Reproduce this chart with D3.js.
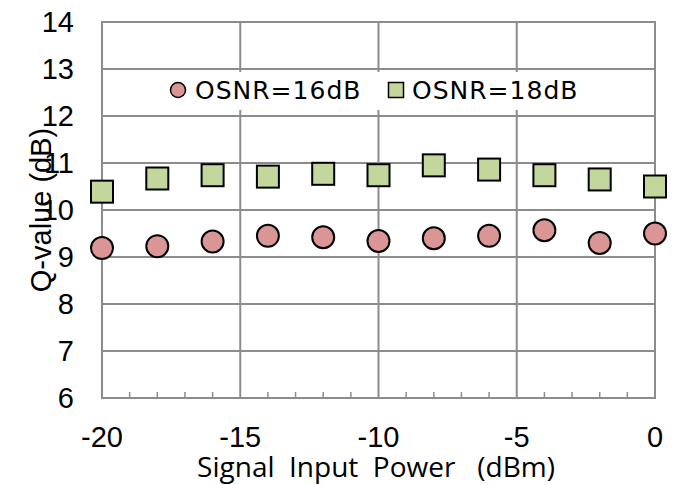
<!DOCTYPE html>
<html>
<head>
<meta charset="utf-8">
<script src="https://cdn.jsdelivr.net/npm/d3@7"></script>
<style>
  html, body { margin: 0; padding: 0; background: #fff; }
  svg { display: block; }
</style>
</head>
<body>
<svg id="chart" width="675" height="485"></svg>
<script>
// ---- data ----
const xValues = [-20, -18, -16, -14, -12, -10, -8, -6, -4, -2, 0];
const osnr16 = [9.19, 9.23, 9.33, 9.45, 9.42, 9.34, 9.40, 9.45, 9.57, 9.30, 9.50];
const osnr18 = [10.39, 10.67, 10.74, 10.71, 10.77, 10.74, 10.95, 10.86, 10.74, 10.65, 10.50];
const seriesNames = ["OSNR=16dB", "OSNR=18dB"];
const xTicks = [-20, -15, -10, -5, 0];
const yTicks = [6, 7, 8, 9, 10, 11, 12, 13, 14];
const xTitle = "Signal  Input  Power   (dBm)";
const yTitle = "Q-value (dB)";

(function () {
// ---- layout ----
const svg = d3.select("#chart");
const pLeft = 102, pRight = 655, pTop = 22, pBottom = 398;
const x = d3.scaleLinear().domain([-20, 0]).range([pLeft, pRight]);
const y = d3.scaleLinear().domain([6, 14]).range([pBottom, pTop]);
const gridColor = "#8c8c8c";
const circleFill = "#d99694";
const squareFill = "#c3d69b";

// horizontal gridlines
svg.append("g").selectAll("line").data(yTicks).join("line")
  .attr("x1", pLeft).attr("x2", pRight)
  .attr("y1", d => y(d)).attr("y2", d => y(d))
  .attr("stroke", gridColor).attr("stroke-width", 2);

// vertical gridlines (major) including left axis
svg.append("g").selectAll("line").data(xTicks).join("line")
  .attr("x1", d => x(d)).attr("x2", d => x(d))
  .attr("y1", pTop - 1).attr("y2", pBottom + 1)
  .attr("stroke", gridColor).attr("stroke-width", 2);

// minor ticks on bottom axis
const minor = d3.range(-20, 1, 1).filter(v => v % 5 !== 0);
svg.append("g").selectAll("line").data(minor).join("line")
  .attr("x1", d => x(d)).attr("x2", d => x(d))
  .attr("y1", pBottom).attr("y2", pBottom - 6)
  .attr("stroke", gridColor).attr("stroke-width", 1.5);

// y tick labels
svg.append("g").selectAll("text").data(yTicks).join("text")
  .attr("x", 74).attr("y", d => y(d)).attr("dy", "0.36em")
  .attr("text-anchor", "end")
  .attr("font-family", "Liberation Sans, Arial, sans-serif")
  .attr("font-size", 29).attr("fill", "#000")
  .text(d => d);

// x tick labels
svg.append("g").selectAll("text").data(xTicks).join("text")
  .attr("x", d => x(d)).attr("y", 447)
  .attr("text-anchor", "middle")
  .attr("font-family", "Liberation Sans, Arial, sans-serif")
  .attr("font-size", 29).attr("fill", "#000")
  .text(d => d);

// axis titles
svg.append("text")
  .attr("x", 376).attr("y", 477)
  .attr("text-anchor", "middle")
  .attr("font-family", "Open Sans, sans-serif")
  .attr("font-size", 28).attr("fill", "#000")
  .style("white-space", "pre")
  .text(xTitle);

svg.append("text")
  .attr("transform", "translate(51,210) rotate(-90)")
  .attr("text-anchor", "middle")
  .attr("font-family", "Liberation Sans, Arial, sans-serif")
  .attr("font-size", 29).attr("fill", "#000")
  .text(yTitle);

// legend box (white background)
const lg = svg.append("g");
lg.append("rect").attr("x", 162).attr("y", 72).attr("width", 430).attr("height", 38)
  .attr("fill", "#fff");
lg.append("circle").attr("cx", 178).attr("cy", 90).attr("r", 7.5)
  .attr("fill", circleFill).attr("stroke", "#000").attr("stroke-width", 1.5);
lg.append("text").attr("x", 195).attr("y", 99)
  .attr("font-family", "DejaVu Sans, sans-serif").attr("font-size", 25)
  .attr("letter-spacing", 1)
  .text(seriesNames[0]);
lg.append("rect").attr("x", 388.5).attr("y", 82.5).attr("width", 15).attr("height", 15)
  .attr("fill", squareFill).attr("stroke", "#000").attr("stroke-width", 1.5);
lg.append("text").attr("x", 412).attr("y", 99)
  .attr("font-family", "DejaVu Sans, sans-serif").attr("font-size", 25)
  .attr("letter-spacing", 1)
  .text(seriesNames[1]);

// markers
const pts16 = xValues.map((v, i) => ({ x: v, y: osnr16[i] }));
const pts18 = xValues.map((v, i) => ({ x: v, y: osnr18[i] }));

svg.append("g").selectAll("rect").data(pts18).join("rect")
  .attr("x", d => x(d.x) - 11).attr("y", d => y(d.y) - 11)
  .attr("width", 22).attr("height", 22)
  .attr("fill", squareFill).attr("stroke", "#000").attr("stroke-width", 2);

svg.append("g").selectAll("circle").data(pts16).join("circle")
  .attr("cx", d => x(d.x)).attr("cy", d => y(d.y)).attr("r", 11)
  .attr("fill", circleFill).attr("stroke", "#000").attr("stroke-width", 2);
})();
</script>
</body>
</html>
